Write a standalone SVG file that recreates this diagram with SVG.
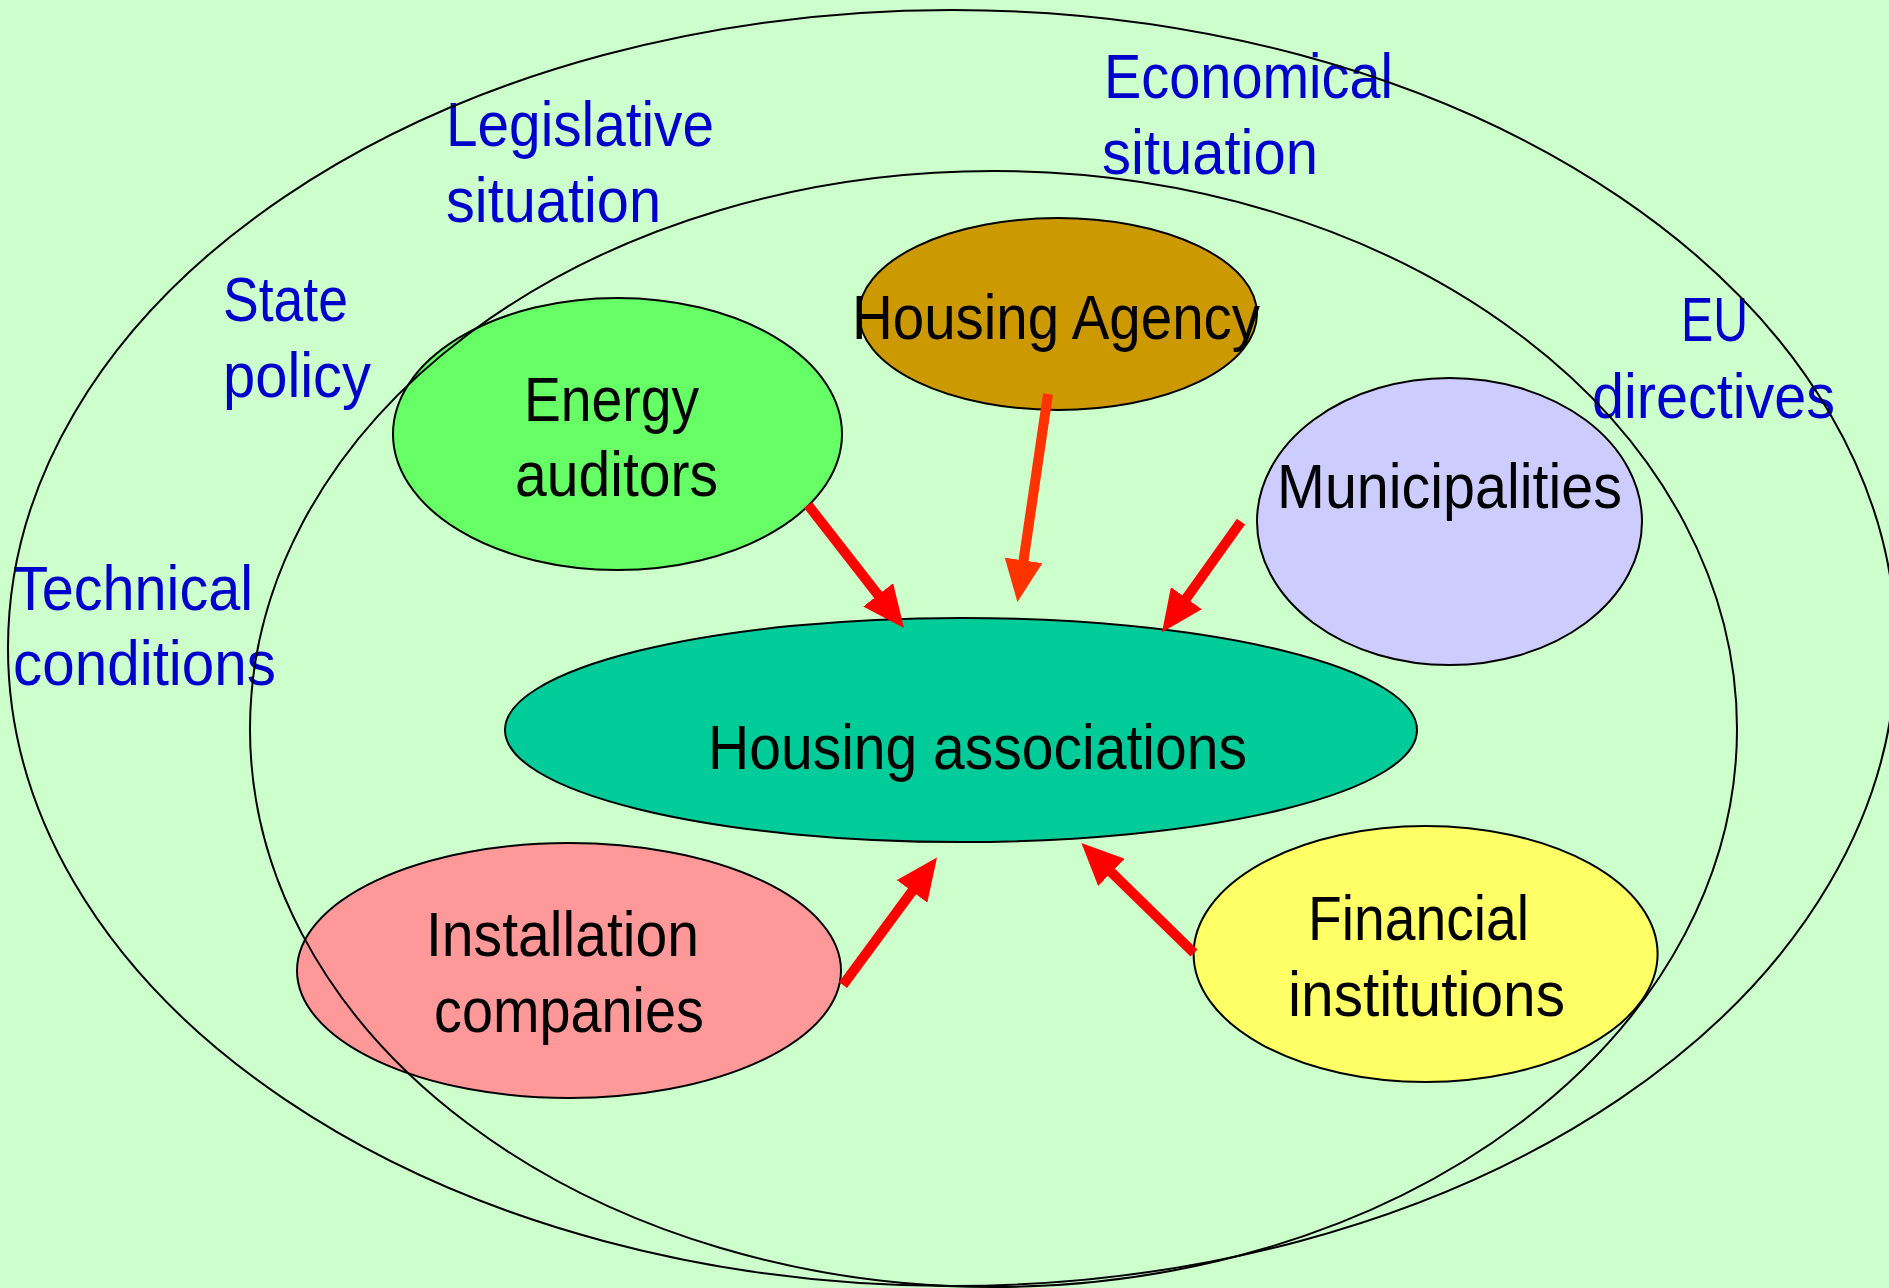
<svg xmlns="http://www.w3.org/2000/svg" width="1889" height="1288" viewBox="0 0 1889 1288">
<style>
.ring{fill:none;stroke:#000;stroke-width:2}
.node{stroke:#000;stroke-width:2}
.ctx{font-family:"Liberation Sans Narrow","Liberation Sans",Arial,sans-serif;font-size:63px;fill:#0000CC}
.lbl{font-family:"Liberation Sans Narrow","Liberation Sans",Arial,sans-serif;font-size:63px;fill:#000}
.arr{stroke:#FF0000;stroke-width:10;fill:none}
</style>
<defs>
<marker id="ah" markerUnits="userSpaceOnUse" markerWidth="42" markerHeight="38" refX="10" refY="19" orient="auto"><path d="M0,0 L42,19 L0,38 z" fill="#FF0000"/></marker>
<marker id="ah2" markerUnits="userSpaceOnUse" markerWidth="42" markerHeight="38" refX="10" refY="19" orient="auto"><path d="M0,0 L42,19 L0,38 z" fill="#FF3300"/></marker>
</defs>
<rect x="0" y="0" width="1889" height="1288" fill="#CCFFCC"/>

<g id="node-housing-associations">
<ellipse class="node" cx="961" cy="730" rx="456" ry="112" fill="#00CC99"/>
<text class="lbl" x="708" y="769" textLength="539" lengthAdjust="spacingAndGlyphs">Housing associations</text>
</g>
<g id="node-energy-auditors">
<ellipse class="node" cx="617.5" cy="434" rx="224.5" ry="136" fill="#66FF66"/>
<text class="lbl" x="524" y="421" textLength="175" lengthAdjust="spacingAndGlyphs">Energy</text>
<text class="lbl" x="515" y="496" textLength="203" lengthAdjust="spacingAndGlyphs">auditors</text>
</g>
<g id="node-housing-agency">
<ellipse class="node" cx="1058" cy="314" rx="199" ry="96" fill="#CC9900"/>
<text class="lbl" x="852" y="339" textLength="408" lengthAdjust="spacingAndGlyphs">Housing Agency</text>
</g>
<g id="node-municipalities">
<ellipse class="node" cx="1449.5" cy="521.5" rx="192.5" ry="143.5" fill="#CCCCFF"/>
<text class="lbl" x="1277" y="508" textLength="345" lengthAdjust="spacingAndGlyphs">Municipalities</text>
</g>
<g id="node-installation-companies">
<ellipse class="node" cx="569" cy="970.5" rx="272" ry="127.5" fill="#FF9999"/>
<text class="lbl" x="426" y="956" textLength="273" lengthAdjust="spacingAndGlyphs">Installation</text>
<text class="lbl" x="434" y="1032" textLength="270" lengthAdjust="spacingAndGlyphs">companies</text>
</g>
<g id="node-financial-institutions">
<ellipse class="node" cx="1425.6" cy="954" rx="232" ry="128" fill="#FFFF66"/>
<text class="lbl" x="1308" y="940" textLength="221" lengthAdjust="spacingAndGlyphs">Financial</text>
<text class="lbl" x="1288" y="1016" textLength="277" lengthAdjust="spacingAndGlyphs">institutions</text>
</g>

<g id="context-labels">
<text class="ctx" x="446" y="146" textLength="268" lengthAdjust="spacingAndGlyphs">Legislative</text>
<text class="ctx" x="446" y="222" textLength="215" lengthAdjust="spacingAndGlyphs">situation</text>
<text class="ctx" x="223" y="321" textLength="125" lengthAdjust="spacingAndGlyphs">State</text>
<text class="ctx" x="223" y="397" textLength="148" lengthAdjust="spacingAndGlyphs">policy</text>
<text class="ctx" x="13" y="610" textLength="240" lengthAdjust="spacingAndGlyphs">Technical</text>
<text class="ctx" x="13" y="685" textLength="263" lengthAdjust="spacingAndGlyphs">conditions</text>
<text class="ctx" x="1104" y="98" textLength="289" lengthAdjust="spacingAndGlyphs">Economical</text>
<text class="ctx" x="1102" y="174" textLength="216" lengthAdjust="spacingAndGlyphs">situation</text>
<text class="ctx" x="1681" y="341" textLength="67" lengthAdjust="spacingAndGlyphs">EU</text>
<text class="ctx" x="1592" y="418" textLength="243" lengthAdjust="spacingAndGlyphs">directives</text>
</g>

<g id="rings">
<ellipse class="ring" cx="952" cy="648" rx="944" ry="638"/>
<ellipse class="ring" cx="993.5" cy="729" rx="743.5" ry="558"/>
</g>

<g id="connectors">
<line class="arr" x1="808" y1="505" x2="884.3" y2="602.8" marker-end="url(#ah)"/>
<line class="arr" x1="1048" y1="394" x2="1022.1" y2="570.3" stroke="#FF3300" style="stroke:#FF3300" marker-end="url(#ah2)"/>
<line class="arr" x1="1241" y1="521.6" x2="1180.6" y2="606.3" marker-end="url(#ah)"/>
<line class="arr" x1="843" y1="985" x2="918" y2="883.3" marker-end="url(#ah)"/>
<line class="arr" x1="1194" y1="953" x2="1104.3" y2="865.4" marker-end="url(#ah)"/>
</g>
</svg>
